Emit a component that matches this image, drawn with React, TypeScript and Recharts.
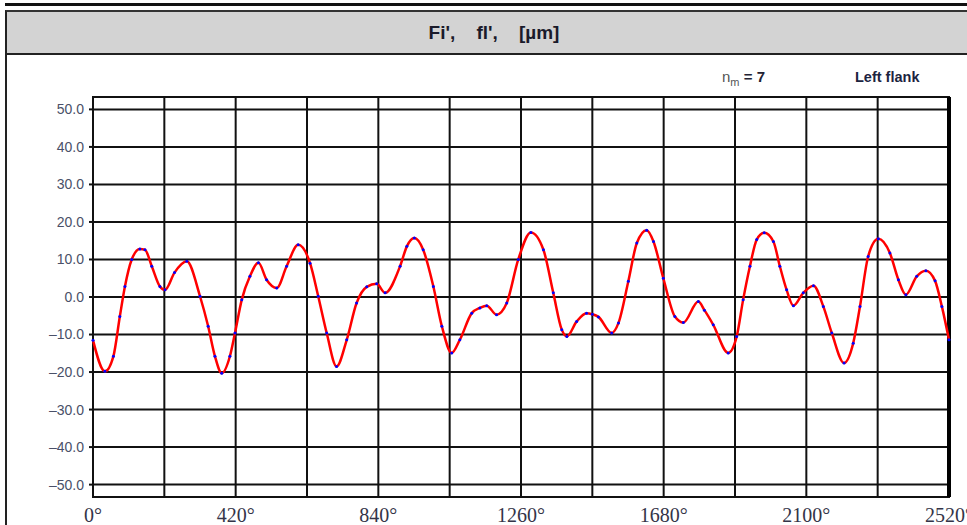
import React from 'react';
import { LineChart, Line, XAxis, YAxis, CartesianGrid, ReferenceArea, ReferenceLine } from 'recharts';

const angles = [0, 35, 60, 79, 94, 114, 138, 153, 173, 197, 212, 240, 276, 315, 339, 359, 379, 403, 418, 438, 462, 487, 511, 541, 570, 604, 639, 663, 688, 717, 747, 776, 806, 835, 860, 904, 924, 946, 972, 1002, 1027, 1056, 1080, 1115, 1139, 1159, 1188, 1218, 1252, 1289, 1326, 1355, 1380, 1395, 1424, 1453, 1470, 1488, 1527, 1547, 1576, 1601, 1630, 1650, 1679, 1713, 1738, 1782, 1800, 1826, 1870, 1895, 1914, 1934, 1954, 1976, 2003, 2022, 2042, 2062, 2091, 2121, 2150, 2175, 2211, 2238, 2258, 2282, 2312, 2346, 2371, 2393, 2425, 2452, 2479, 2499, 2520];
const deviation = [-11.5, -19.8, -15.8, -5.2, 2.8, 10, 12.8, 12.6, 8.2, 2.8, 1.9, 6.5, 9.5, 0.2, -7.8, -15.8, -20.3, -15.8, -9.6, -0.7, 5.5, 9.1, 4.6, 2.4, 8.2, 13.9, 9, 0.2, -9.6, -18.5, -11.4, -1.6, 2.7, 3.5, 1.1, 8.2, 13.5, 15.7, 12.6, 2.8, -7.8, -14.9, -11.4, -4.3, -2.9, -2.3, -4.7, -1.6, 10, 17.2, 12.6, 1.1, -8.7, -10.5, -6.5, -4.3, -4.6, -5.3, -9.6, -6.9, 4.2, 14.4, 17.8, 14.8, 5.0, -5.2, -6.8, -1.2, -3.5, -7.4, -14.9, -10.5, -0.7, 8.2, 15.3, 17.1, 14.8, 8.2, 1.9, -2.3, 1.1, 3.0, -2.5, -9.6, -17.6, -12.3, -2.5, 10.8, 15.5, 11.7, 4.6, 0.6, 5.5, 7.0, 4.3, -2.5, -11.4];

const xTicks = [0, 210, 420, 630, 840, 1050, 1260, 1470, 1680, 1890, 2100, 2310, 2520];
const yTicks = [-50, -40, -30, -20, -10, 0, 10, 20, 30, 40, 50];
const yDomain = [-53.3, 53.3];
const titleText = "Fi',    fl',    [µm]";
const flankText = 'Left flank';
const nmValue = '7';

const data = angles.map((a, i) => ({ deg: a, dev: deviation[i] }));

const fmtX = (v: number) => (v % 420 === 0 ? `${v}°` : '');
const fmtY = (v: number) => (v < 0 ? `–${Math.abs(v).toFixed(1)}` : v.toFixed(1));

export default function App() {
  return (
    <div style={{ position: 'absolute', left: 0, top: 0, width: 967, height: 525, background: '#fff', overflow: 'hidden' }}>
      <div style={{ position: 'absolute', left: 5, top: 3, width: 962, height: 3, background: '#111' }} />
      <div style={{ position: 'absolute', left: 5, top: 10, width: 962, height: 515, borderLeft: '2px solid #222' }} />
      <div
        style={{
          position: 'absolute', left: 5, top: 10, width: 962, height: 41,
          background: '#d3d3d3', borderTop: '2px solid #333', borderBottom: '2px solid #222', borderLeft: '2px solid #222',
          display: 'flex', alignItems: 'center', justifyContent: 'center', paddingLeft: 6, boxSizing: 'content-box',
        }}
      >
        <span style={{ fontFamily: 'Liberation Sans, Arial, sans-serif', fontWeight: 700, fontSize: 19, color: '#1a1a2a', whiteSpace: 'pre' }}>{titleText}</span>
      </div>
      <div style={{ position: 'absolute', left: 722, top: 68, fontFamily: 'Liberation Sans, Arial, sans-serif', fontSize: 15, color: '#555', whiteSpace: 'pre' }}>
        n<sub style={{ fontSize: 11 }}>m</sub>
        <span style={{ color: '#223', fontWeight: 700 }}> = {nmValue}</span>
      </div>
      <div style={{ position: 'absolute', left: 855, top: 69, fontFamily: 'Liberation Sans, Arial, sans-serif', fontSize: 14.5, fontWeight: 700, color: '#1c2440', whiteSpace: 'pre' }}>
        {flankText}
      </div>
      <div style={{ position: 'absolute', left: 0, top: 0 }}>
        <LineChart width={967} height={525} data={data} margin={{ top: 97, right: 18, bottom: 0, left: 33 }}>
          <CartesianGrid stroke="#111" strokeWidth={2} />
          <XAxis
            dataKey="deg"
            type="number"
            domain={[0, 2520]}
            ticks={xTicks}
            interval={0}
            tickFormatter={fmtX}
            axisLine={false}
            tickLine={false}
            height={28}
            tickMargin={5}
            tick={{ fontFamily: 'Liberation Serif, Times New Roman, serif', fontSize: 20, fill: '#343448' }}
          />
          <YAxis
            type="number"
            domain={yDomain}
            ticks={yTicks}
            interval={0}
            allowDataOverflow
            tickFormatter={fmtY}
            axisLine={false}
            tickLine={{ stroke: '#111', strokeWidth: 2 }}
            tickSize={4}
            tickMargin={5}
            width={60}
            tick={{ fontFamily: 'Liberation Sans, Arial, sans-serif', fontSize: 14, fill: '#4a5068' }}
          />
          <ReferenceArea x1={0} x2={2520} y1={yDomain[0]} y2={yDomain[1]} fill="none" fillOpacity={0} stroke="#111" strokeWidth={2} ifOverflow="visible" />
          <ReferenceLine x={2520} stroke="#000" strokeWidth={4} ifOverflow="visible" />
          <Line
            dataKey="dev"
            type="monotone"
            stroke="none"
            dot={{ r: 1.5, fill: '#0000ff', stroke: 'none' }}
            activeDot={false}
            isAnimationActive={false}
          />
          <Line
            dataKey="dev"
            type="monotone"
            stroke="#ff0000"
            strokeWidth={2.5}
            dot={false}
            activeDot={false}
            isAnimationActive={false}
          />
        </LineChart>
      </div>
    </div>
  );
}
